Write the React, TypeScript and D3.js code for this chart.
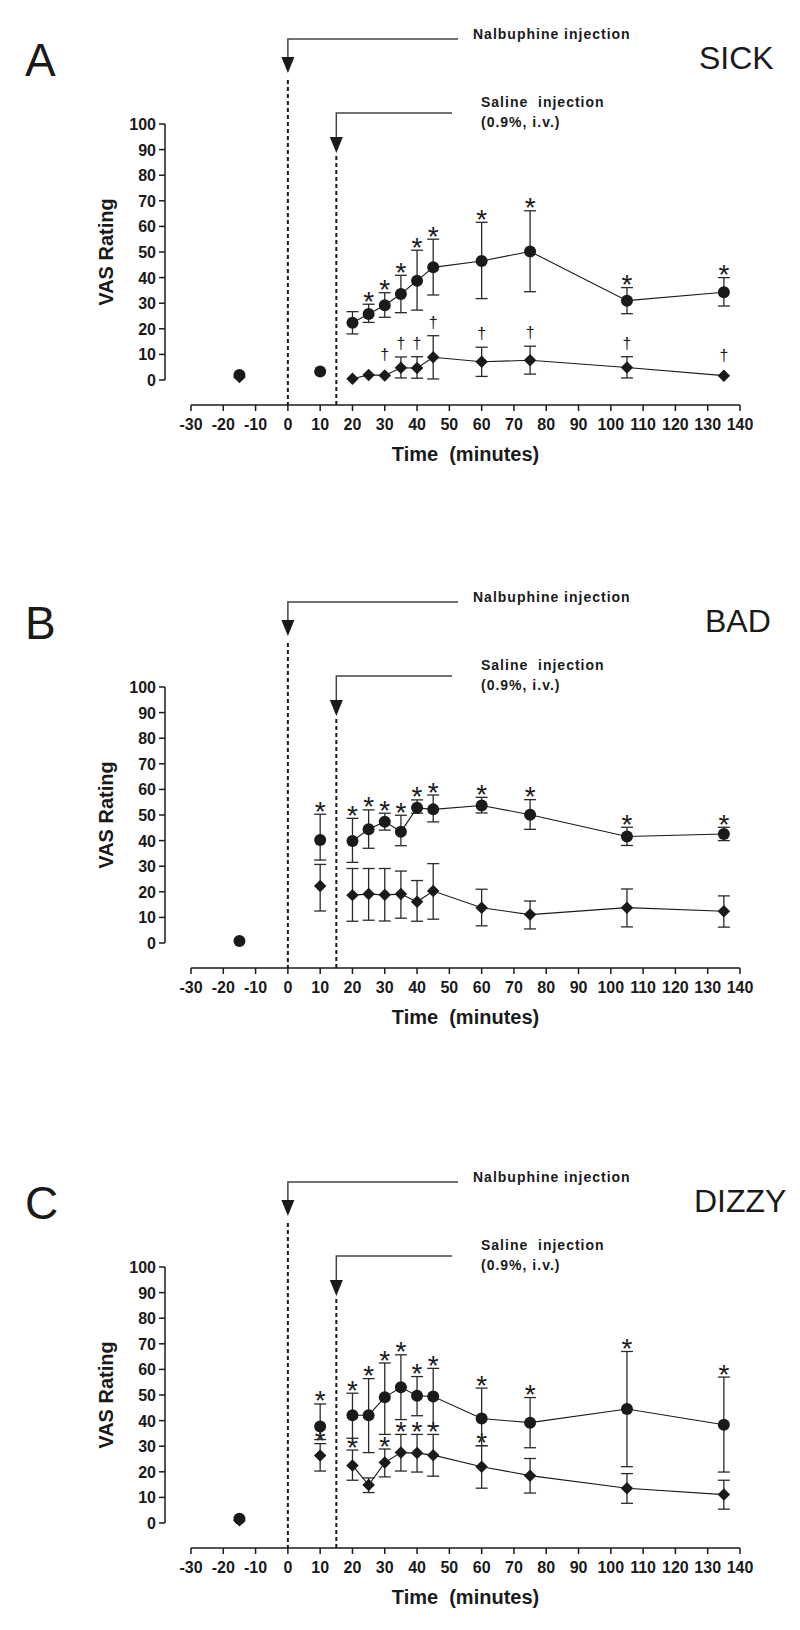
import React from "react";
import * as d3 from "d3";

// ---------- data ----------
const TIMES = [-15, 10, 20, 25, 30, 35, 40, 45, 60, 75, 105, 135];
const X_TICKS = [-30, -20, -10, 0, 10, 20, 30, 40, 50, 60, 70, 80, 90, 100, 110, 120, 130, 140];
const Y_TICKS = [0, 10, 20, 30, 40, 50, 60, 70, 80, 90, 100];

// Panel A - SICK
const sickCircleMean = [2.0, 3.3, 22.4, 25.8, 29.2, 33.6, 38.8, 44.0, 46.5, 50.2, 31.0, 34.3];
const sickCircleHi = [null, null, 26.7, 29.6, 34.1, 40.9, 50.7, 55.0, 61.6, 66.1, 36.1, 40.0];
const sickCircleLo = [null, null, 18.0, 22.5, 24.5, 26.3, 27.3, 33.2, 31.8, 34.5, 25.9, 28.9];
const sickCircleSig = [0, 0, 0, 1, 1, 1, 1, 1, 1, 1, 1, 1];
const sickDiamondMean = [1.2, null, 0.5, 2.0, 1.8, 4.8, 4.7, 8.9, 7.1, 7.7, 4.9, 1.7];
const sickDiamondHi = [null, null, null, null, null, 9.0, 9.1, 17.3, 12.8, 13.2, 9.1, null];
const sickDiamondLo = [null, null, null, null, null, 0.8, 0.7, 0.4, 1.4, 2.3, 0.8, null];
const sickDiamondSig = [0, 0, 0, 0, 1, 1, 1, 1, 1, 1, 1, 1];

// Panel B - BAD
const badCircleMean = [0.8, 40.2, 39.8, 44.4, 47.4, 43.5, 52.8, 52.2, 53.7, 50.1, 41.6, 42.6];
const badCircleHi = [null, 50.3, 48.7, 52.0, 50.7, 49.9, 55.9, 57.8, 56.9, 56.0, 45.2, 45.2];
const badCircleLo = [null, 32.4, 31.5, 37.0, 44.1, 38.0, 50.7, 47.3, 50.8, 44.4, 38.1, 40.0];
const badCircleSig = [0, 1, 1, 1, 1, 1, 1, 1, 1, 1, 1, 1];
const badDiamondMean = [null, 22.3, 18.7, 19.1, 18.8, 19.1, 16.1, 20.3, 13.8, 11.1, 13.8, 12.4];
const badDiamondHi = [null, 30.7, 29.1, 29.1, 29.1, 28.1, 24.4, 31.0, 21.0, 16.4, 21.1, 18.4];
const badDiamondLo = [null, 12.5, 8.5, 8.9, 8.6, 9.7, 8.5, 9.3, 6.7, 5.5, 6.3, 6.2];
const badDiamondSig = [0, 0, 0, 0, 0, 0, 0, 0, 0, 0, 0, 0];

// Panel C - DIZZY
const dizzyCircleMean = [1.7, 37.7, 42.1, 42.1, 49.1, 53.0, 49.7, 49.4, 40.8, 39.2, 44.5, 38.4];
const dizzyCircleHi = [null, 46.5, 50.7, 56.4, 62.5, 65.7, 57.2, 60.4, 52.7, 49.0, 67.0, 57.0];
const dizzyCircleLo = [null, 32.6, 33.1, 27.5, 34.6, 40.4, 41.9, 37.9, 30.2, 29.4, 22.0, 19.9];
const dizzyCircleSig = [0, 1, 1, 1, 1, 1, 1, 1, 1, 1, 1, 1];
const dizzyDiamondMean = [1.1, 26.4, 22.5, 14.8, 23.6, 27.5, 27.3, 26.5, 22.0, 18.5, 13.6, 11.1];
const dizzyDiamondHi = [null, 31.0, 28.5, 17.6, 28.9, 34.6, 34.6, 34.6, 30.2, 25.2, 19.3, 16.7];
const dizzyDiamondLo = [null, 20.3, 16.7, 11.9, 18.0, 20.3, 19.9, 18.3, 13.6, 11.7, 7.7, 5.4];
const dizzyDiamondSig = [0, 1, 1, 0, 1, 1, 1, 1, 1, 0, 0, 0];

const PANEL_LETTERS = ["A", "B", "C"];
const PANEL_TITLES = ["SICK", "BAD", "DIZZY"];
const NALBUPHINE_LABEL = "Nalbuphine injection";
const SALINE_LABEL_1 = "Saline\u00a0\u00a0injection";
const SALINE_LABEL_2 = "(0.9%, i.v.)";
const Y_LABEL = "VAS Rating";
const X_LABEL = "Time\u00a0\u00a0(minutes)";
const NALBUPHINE_TIME = 0;
const SALINE_TIME = 15;

// ---------- layout ----------
const W = 800;
const H = 1630;
const FONT = "'Liberation Sans', Arial, Helvetica, sans-serif";
const INK = "#1a1a1a";
const PANEL_DY = [0, 563, 1143];
const TITLE_X = [699, 705, 694];

const x = d3.scaleLinear().domain([-30, 140]).range([191, 740]);
const y = d3.scaleLinear().domain([0, 100]).range([380, 124]);
const X_AXIS_Y = 405;
const Y_AXIS_X = 165;

type Series = {
  mean: (number | null)[];
  hi: (number | null)[];
  lo: (number | null)[];
  sig: number[];
  sigChar: string;
};

const panels = [
  {
    circle: { mean: sickCircleMean, hi: sickCircleHi, lo: sickCircleLo, sig: sickCircleSig, sigChar: "*" },
    diamond: { mean: sickDiamondMean, hi: sickDiamondHi, lo: sickDiamondLo, sig: sickDiamondSig, sigChar: "\u2020" },
  },
  {
    circle: { mean: badCircleMean, hi: badCircleHi, lo: badCircleLo, sig: badCircleSig, sigChar: "*" },
    diamond: { mean: badDiamondMean, hi: badDiamondHi, lo: badDiamondLo, sig: badDiamondSig, sigChar: "*" },
  },
  {
    circle: { mean: dizzyCircleMean, hi: dizzyCircleHi, lo: dizzyCircleLo, sig: dizzyCircleSig, sigChar: "*" },
    diamond: { mean: dizzyDiamondMean, hi: dizzyDiamondHi, lo: dizzyDiamondLo, sig: dizzyDiamondSig, sigChar: "*" },
  },
];

const lineGen = d3
  .line<[number, number]>()
  .x((d) => x(d[0]))
  .y((d) => y(d[1]));

const diamondPath = d3.symbol(d3.symbolSquare, 78)() as string;

function SeriesView({ s, kind }: { s: Series; kind: "circle" | "diamond" }) {
  const pts: [number, number][] = [];
  TIMES.forEach((t, i) => {
    const m = s.mean[i];
    if (m != null && t >= 20) pts.push([t, m]);
  });
  return (
    <g>
      <path d={lineGen(pts) || ""} fill="none" stroke={INK} strokeWidth={1.1} />
      {TIMES.map((t, i) => {
        const hi = s.hi[i];
        const lo = s.lo[i];
        if (hi == null || lo == null) return null;
        const cx = x(t);
        return (
          <g key={"e" + i} stroke="#2a2a2a" strokeWidth={1.3}>
            <line x1={cx} x2={cx} y1={y(hi)} y2={y(lo)} />
            <line x1={cx - 6} x2={cx + 6} y1={y(hi)} y2={y(hi)} />
            <line x1={cx - 6} x2={cx + 6} y1={y(lo)} y2={y(lo)} />
          </g>
        );
      })}
      {TIMES.map((t, i) => {
        const m = s.mean[i];
        if (m == null) return null;
        return kind === "circle" ? (
          <circle key={"m" + i} cx={x(t)} cy={y(m)} r={6} fill={INK} />
        ) : (
          <path key={"m" + i} d={diamondPath} transform={`translate(${x(t)},${y(m)}) rotate(45)`} fill={INK} />
        );
      })}
      {TIMES.map((t, i) => {
        const m = s.mean[i];
        if (!s.sig[i] || m == null) return null;
        const hi = s.hi[i];
        const isDagger = s.sigChar !== "*";
        let cy: number;
        if (isDagger) {
          cy = Math.min(hi != null ? y(hi) - 13 : Infinity, y(m) - 20);
          return (
            <text key={"s" + i} x={x(t)} y={cy + 5} textAnchor="middle" fontSize={16} fontFamily={FONT} fill={INK}>
              {s.sigChar}
            </text>
          );
        }
        cy = Math.min(hi != null ? y(hi) - 10 : Infinity, y(m) - 16);
        return (
          <text key={"s" + i} x={x(t)} y={cy + 16.5} textAnchor="middle" fontSize={28} fontFamily={FONT} fill={INK}>
            {s.sigChar}
          </text>
        );
      })}
    </g>
  );
}

function PanelView({ idx }: { idx: number }) {
  const p = panels[idx];
  const dy = PANEL_DY[idx];
  const xn = x(NALBUPHINE_TIME);
  const xs = x(SALINE_TIME);
  return (
    <g transform={`translate(0,${dy})`}>
      <text x={25} y={76} fontSize={46} fontFamily={FONT} fill={INK}>
        {PANEL_LETTERS[idx]}
      </text>
      <text x={TITLE_X[idx]} y={69} fontSize={32} fontFamily={FONT} fill={INK}>
        {PANEL_TITLES[idx]}
      </text>

      {/* Nalbuphine marker */}
      <polyline points={`${458},39 ${xn},39 ${xn},58`} fill="none" stroke="#444" strokeWidth={1.5} />
      <path d={`M${xn - 6.5},57 L${xn + 6.5},57 L${xn},73 Z`} fill={INK} />
      <line x1={xn} x2={xn} y1={80} y2={X_AXIS_Y} stroke={INK} strokeWidth={2} strokeDasharray="4,3" />
      <text x={473} y={39} fontSize={14} fontWeight="bold" letterSpacing={1} fontFamily={FONT} fill={INK}>
        {NALBUPHINE_LABEL}
      </text>

      {/* Saline marker */}
      <polyline points={`${452},113 ${xs},113 ${xs},138`} fill="none" stroke="#444" strokeWidth={1.5} />
      <path d={`M${xs - 6.5},137 L${xs + 6.5},137 L${xs},153 Z`} fill={INK} />
      <line x1={xs} x2={xs} y1={156} y2={X_AXIS_Y} stroke={INK} strokeWidth={2} strokeDasharray="4,3" />
      <text x={481} y={107} fontSize={14} fontWeight="bold" letterSpacing={1} fontFamily={FONT} fill={INK}>
        {SALINE_LABEL_1}
      </text>
      <text x={481} y={127} fontSize={14} fontWeight="bold" letterSpacing={1} fontFamily={FONT} fill={INK}>
        {SALINE_LABEL_2}
      </text>

      {/* Y axis */}
      <line x1={Y_AXIS_X} x2={Y_AXIS_X} y1={y(100)} y2={y(0)} stroke={INK} strokeWidth={1.5} />
      {Y_TICKS.map((v) => (
        <g key={"yt" + v}>
          <line x1={Y_AXIS_X - 6} x2={Y_AXIS_X} y1={y(v)} y2={y(v)} stroke={INK} strokeWidth={1.5} />
          <text
            x={Y_AXIS_X - 9}
            y={y(v) + 6}
            textAnchor="end"
            fontSize={16}
            fontWeight="bold"
            fontFamily={FONT}
            fill={INK}
          >
            {v}
          </text>
        </g>
      ))}
      <text
        transform={`translate(113,${(y(0) + y(100)) / 2}) rotate(-90)`}
        textAnchor="middle"
        fontSize={20}
        fontWeight="bold"
        fontFamily={FONT}
        fill={INK}
      >
        {Y_LABEL}
      </text>

      {/* X axis */}
      <line x1={x(-30)} x2={x(140)} y1={X_AXIS_Y} y2={X_AXIS_Y} stroke={INK} strokeWidth={1.5} />
      {X_TICKS.map((v) => (
        <g key={"xt" + v}>
          <line x1={x(v)} x2={x(v)} y1={X_AXIS_Y} y2={X_AXIS_Y + 6} stroke={INK} strokeWidth={1.5} />
          <text
            x={x(v)}
            y={X_AXIS_Y + 25}
            textAnchor="middle"
            fontSize={16}
            fontWeight="bold"
            fontFamily={FONT}
            fill={INK}
          >
            {v}
          </text>
        </g>
      ))}
      <text
        x={(x(-30) + x(140)) / 2}
        y={X_AXIS_Y + 56}
        textAnchor="middle"
        fontSize={20}
        fontWeight="bold"
        fontFamily={FONT}
        fill={INK}
      >
        {X_LABEL}
      </text>

      <SeriesView s={p.diamond} kind="diamond" />
      <SeriesView s={p.circle} kind="circle" />
    </g>
  );
}

export default function App() {
  return (
    <svg
      width={W}
      height={H}
      viewBox={`0 0 ${W} ${H}`}
      style={{ position: "absolute", left: 0, top: 0, background: "#fff" }}
    >
      <rect width={W} height={H} fill="#fff" />
      {PANEL_LETTERS.map((_, i) => (
        <PanelView key={i} idx={i} />
      ))}
    </svg>
  );
}
